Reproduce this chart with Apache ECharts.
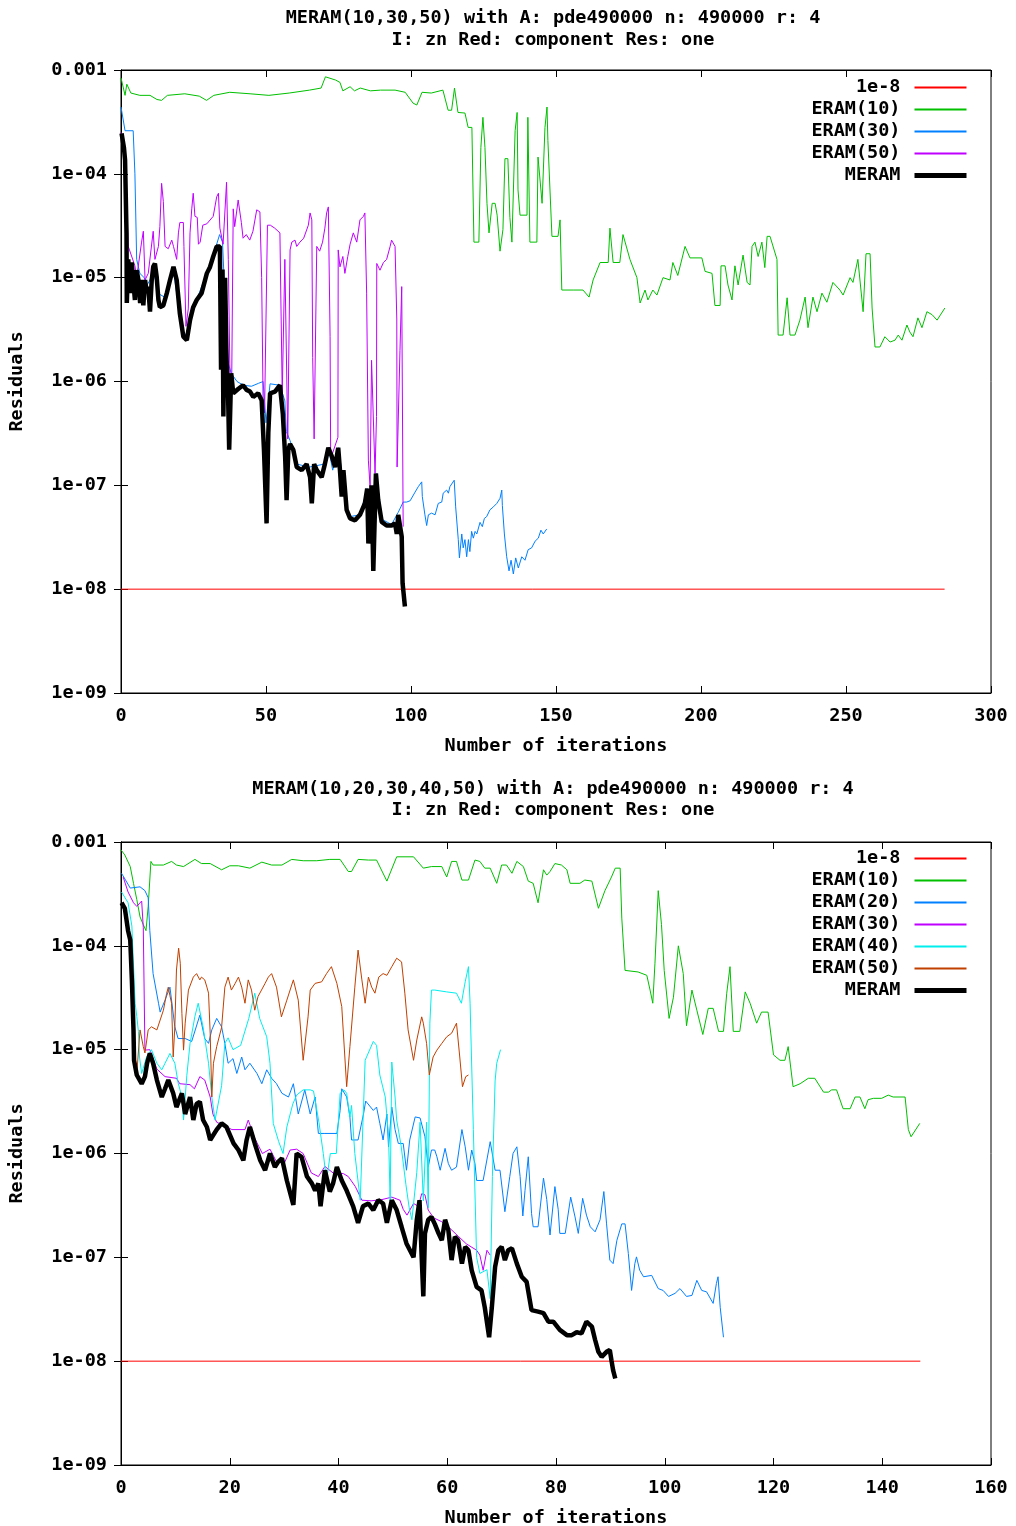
<!DOCTYPE html>
<html>
<head>
<meta charset="utf-8">
<title>MERAM residuals</title>
<script src="https://cdn.jsdelivr.net/npm/echarts@6/dist/echarts.min.js"></script>
<style>
  html, body { margin: 0; padding: 0; background: #fff; }
  #chart { width: 1016px; height: 1526px; }
</style>
</head>
<body>
<div id="chart"></div>
<script>
// residuals, as [iteration, residual]

// --- top plot: MERAM(10,30,50)
const topTarget = [[0, 1e-8], [284, 1e-8]];
const topEram10 = [[0,8.4e-4],[1.4,5.7e-4],[2,7.3e-4],[3.4,6.0e-4],[6.5,5.7e-4],[10,5.7e-4],[12.4,5.2e-4],[14,5.1e-4],[16,5.7e-4],[22,5.9e-4],[27,5.6e-4],[29.5,5.1e-4],[32,5.7e-4],[37.5,6.1e-4],[44.5,5.9e-4],[51,5.7e-4],[58,6.0e-4],[65,6.4e-4],[69,6.7e-4],[70.5,8.6e-4],[74,8.0e-4],[75.5,7.6e-4],[76.5,6.3e-4],[79,6.9e-4],[80.5,6.3e-4],[82.5,6.7e-4],[86,6.3e-4],[89.5,6.4e-4],[94.5,6.4e-4],[98,6.1e-4],[100.7,4.8e-4],[102,4.6e-4],[103.8,6.1e-4],[107,6.0e-4],[111,6.4e-4],[112.8,4.1e-4],[114,4.1e-4],[115,6.7e-4],[116.2,3.9e-4],[118.6,3.85e-4],[119.7,2.8e-4],[121,2.8e-4],[121.7,2.2e-5],[123.4,2.2e-5],[124.1,1.8e-4],[124.8,3.5e-4],[125.5,1.8e-4],[126.2,5.2e-5],[126.9,2.7e-5],[128,5.2e-5],[129,5.2e-5],[129.7,4.0e-5],[130.7,1.8e-5],[131.7,2.9e-5],[132.4,1.4e-4],[133.4,1.4e-4],[134.1,3.8e-5],[134.8,2.2e-5],[135.9,2.6e-4],[136.6,3.9e-4],[136.9,7.0e-5],[137.6,4.0e-5],[140,4.0e-5],[140.3,3.5e-4],[141,2.2e-5],[143.4,2.2e-5],[143.8,1.45e-4],[145.2,5.2e-5],[146.2,2.8e-4],[146.9,4.4e-4],[147.2,2.1e-4],[148.6,2.5e-5],[150.7,2.5e-5],[151.4,3.6e-5],[152,7.6e-6],[155.9,7.6e-6],[159.3,7.6e-6],[161.4,6.5e-6],[162.8,9.5e-6],[165.2,1.4e-5],[168,1.4e-5],[168.6,3.0e-5],[169.7,1.4e-5],[172,1.4e-5],[173.1,2.6e-5],[175.5,1.5e-5],[177.9,1.0e-5],[179,5.7e-6],[180.7,7.6e-6],[181.7,6.1e-6],[183.4,7.6e-6],[184.8,6.8e-6],[186.9,1.0e-5],[189.3,9.5e-6],[190.3,1.4e-5],[192,1.05e-5],[194.5,2.0e-5],[196.2,1.55e-5],[200.3,1.55e-5],[201.4,1.15e-5],[203.8,1.1e-5],[204.8,5.4e-6],[206.6,5.4e-6],[206.9,1.3e-5],[208.3,1.3e-5],[209.3,8.5e-6],[210.7,6.1e-6],[211.7,1.3e-5],[212.8,8.5e-6],[214.5,1.65e-5],[215.9,9.0e-6],[216.9,8.5e-6],[217.6,2.0e-5],[218.6,2.2e-5],[219.7,1.6e-5],[221,2.2e-5],[222,1.25e-5],[222.8,2.5e-5],[223.8,2.5e-5],[226.2,1.5e-5],[226.6,2.8e-6],[228.3,2.8e-6],[229.7,6.4e-6],[230.7,2.8e-6],[232.4,2.8e-6],[234.1,3.9e-6],[235.9,6.5e-6],[236.9,3.3e-6],[238.6,6.5e-6],[240,4.7e-6],[241.7,7.1e-6],[243.4,5.8e-6],[245.5,9.0e-6],[247.9,7.6e-6],[249,6.8e-6],[251.4,1.0e-5],[252.4,9.0e-6],[254.1,1.5e-5],[255.5,6.1e-6],[255.9,4.7e-6],[256.9,1.7e-5],[258.3,1.7e-5],[259,5.1e-6],[260,2.15e-6],[261.7,2.15e-6],[263.4,2.7e-6],[265.2,2.4e-6],[266.9,2.5e-6],[268,2.8e-6],[269.3,2.5e-6],[271,3.5e-6],[272,3.0e-6],[273.1,2.7e-6],[274.8,4.1e-6],[276.2,3.3e-6],[277.9,4.7e-6],[279.7,4.4e-6],[281.4,3.9e-6],[284.1,5.1e-6]];
const topEram30 = [[0,4.4e-4],[1.4,2.6e-4],[4.2,2.6e-4],[4.8,1.0e-4],[5.4,1.5e-5],[6.5,1.1e-5],[8,1.0e-5],[9,8.5e-6],[10,9.5e-6],[11,1.2e-5],[13,7e-6],[15,6.5e-6],[17,9.5e-6],[18,1.2e-5],[20,5e-6],[21.5,3e-6],[22.5,2.8e-6],[24,4e-6],[26,6e-6],[29.5,1.1e-5],[32,1.7e-5],[34,2.6e-5],[35,2.2e-5],[36,5e-6],[37,1.5e-6],[38,1.2e-6],[40,1e-6],[42.2,9.2e-7],[45,9e-7],[47.4,9.6e-7],[49,1.0e-6],[50,4e-7],[51.4,9.5e-7],[54.8,9.2e-7],[56.5,6.5e-7],[57,3.3e-7],[58.3,2.7e-7],[60.6,1.6e-7],[65,1.5e-7],[70,1.6e-7],[71.5,2.3e-7],[73,1.4e-7],[75,2.3e-7],[77.8,6e-8],[79,5e-8],[82.4,5.2e-8],[84.9,9.3e-8],[86,6e-8],[88,1.3e-7],[90,4.7e-8],[93.3,4.2e-8],[95.6,5.5e-8],[97.3,6.9e-8],[98.5,6.9e-8],[99.7,7.1e-8],[100.2,7.4e-8],[101.4,8.6e-8],[102.5,9.7e-8],[103.7,1.08e-7],[103.9,7.8e-8],[104.8,5.2e-8],[105.4,4.1e-8],[106,5.2e-8],[107.1,5.4e-8],[108.3,5.2e-8],[109.4,6.7e-8],[110.6,6.9e-8],[111.1,8.4e-8],[112.3,9.0e-8],[112.9,8.4e-8],[113.4,9.7e-8],[114.9,1.12e-7],[115.4,6.2e-8],[116.3,3.0e-8],[116.7,2.0e-8],[117.5,3.4e-8],[118,2.5e-8],[118.6,3.0e-8],[119.2,2.05e-8],[119.8,3.0e-8],[120.3,2.3e-8],[120.9,3.6e-8],[121.5,3.1e-8],[122.1,3.6e-8],[122.7,3.4e-8],[123.8,4.4e-8],[124.6,4.0e-8],[125.3,4.8e-8],[126.1,5.0e-8],[127.2,5.8e-8],[128.4,6.2e-8],[129.6,6.7e-8],[130.7,7.5e-8],[131.3,9.0e-8],[131.5,6.4e-8],[132.2,3.4e-8],[133,2.05e-8],[133.8,1.5e-8],[134.5,1.9e-8],[135.3,1.4e-8],[136.1,2.0e-8],[137,1.6e-8],[138.2,2.05e-8],[139.3,1.9e-8],[140.4,2.4e-8],[141.6,2.5e-8],[142.8,2.9e-8],[143.9,3.1e-8],[144.8,3.7e-8],[145.6,3.4e-8],[146.8,3.8e-8]];
const topEram50 = [[0,2.5e-4],[1.4,1.3e-4],[2.5,2.0e-5],[4.8,1.3e-5],[5.4,1.0e-5],[7.1,2.2e-5],[7.7,2.8e-5],[8.3,9.5e-6],[9.4,1.1e-5],[11.1,2.8e-5],[11.7,1.5e-5],[12.9,2.0e-5],[13.4,3.1e-5],[14,8.1e-5],[14.6,5.4e-5],[15.2,2.0e-5],[16.3,1.9e-5],[17.5,2.3e-5],[18.1,2.0e-5],[19.2,1.5e-5],[19.8,2.7e-5],[20.3,3.4e-5],[21.5,3.4e-5],[21.7,2.0e-5],[22.4,3.4e-6],[23.2,5.0e-6],[23.8,2.7e-5],[24.4,4.6e-5],[24.9,6.5e-5],[25.5,3.9e-5],[26.3,3.8e-5],[26.7,2.1e-5],[27.3,2.2e-5],[28.2,3.2e-5],[29.6,3.3e-5],[31.8,3.9e-5],[33,6.0e-5],[33.6,6.5e-5],[34.1,3.0e-5],[35.2,2.1e-5],[36.4,8.3e-5],[37,1.5e-5],[37.6,1.0e-6],[38.2,1.2e-6],[38.7,4.6e-5],[39.2,3.1e-5],[40.4,5.6e-5],[41.5,3.4e-5],[42.1,2.4e-5],[43.2,2.6e-5],[44.4,2.3e-5],[45.5,2.8e-5],[46.8,4.5e-5],[47.9,4.3e-5],[48.5,1.0e-5],[49,6.5e-7],[49.5,5.0e-7],[50.5,3.2e-5],[51.5,3.2e-5],[53,3.0e-5],[54.8,2.7e-5],[55.4,2.6e-5],[55.6,7.7e-7],[56.5,1.5e-5],[57.5,2.8e-7],[58.3,1.85e-5],[58.9,2.2e-5],[60,2.3e-5],[60.6,2.0e-5],[61.7,2.2e-5],[63,2.4e-5],[64.6,3.2e-5],[65.2,4.2e-5],[65.8,3.6e-5],[66.1,1.7e-6],[66.6,2.8e-7],[67.5,2.0e-5],[68.5,1.8e-5],[69.5,2.2e-5],[70.3,3.0e-5],[70.9,4.2e-5],[71.5,4.8e-5],[72.1,2.7e-6],[72.3,1.8e-7],[74.8,2.9e-7],[74.9,1.85e-5],[75.5,1.27e-5],[76.5,1.6e-5],[77.2,1.1e-5],[78.2,1.6e-5],[79,2.1e-5],[80.1,2.7e-5],[81.3,2.2e-5],[82.4,3.6e-5],[83.6,3.9e-5],[84.1,4.2e-5],[84.7,7.1e-6],[85.3,1.75e-7],[85.9,9.6e-8],[86.4,1.6e-6],[87.6,1.3e-7],[88.1,4.6e-7],[88.2,1.37e-5],[89.3,1.18e-5],[90.5,1.4e-5],[91.6,1.5e-5],[92.8,2.0e-5],[93.3,2.3e-5],[94.5,2.0e-5],[95.1,4.0e-6],[95.2,1.5e-7],[96.2,2.0e-6],[96.8,8.2e-6],[97.3,4.0e-8]];
const topMeram = [[0.2,2.45e-4],[1,1.8e-4],[1.4,1.36e-4],[1.9,2.7e-5],[2,5.7e-6],[2.5,1.5e-5],[3.1,7.1e-6],[3.7,1.4e-5],[4.2,9.5e-6],[4.8,6.1e-6],[5.4,1.18e-5],[6,9.5e-6],[6.6,5.7e-6],[7.1,9.5e-6],[7.7,5.4e-6],[8.3,9.5e-6],[8.9,7.1e-6],[9.4,8.2e-6],[10,4.7e-6],[10.6,9.5e-6],[11.1,1.27e-5],[11.7,1.37e-5],[12.3,1.02e-5],[12.9,6.1e-6],[13.4,5.2e-6],[14.6,5.4e-6],[15.8,7.1e-6],[16.9,9.5e-6],[18.1,1.27e-5],[19.2,9.5e-6],[20.3,4.5e-6],[21.5,2.7e-6],[22.7,2.5e-6],[23.8,3.9e-6],[24.9,5.2e-6],[26.1,6.1e-6],[27.8,7.1e-6],[29.6,1.1e-5],[30.7,1.27e-5],[31.8,1.6e-5],[33,2.0e-5],[34.1,2.0e-5],[34.5,1.3e-6],[35,1.2e-5],[35.3,4.6e-7],[35.9,1.0e-5],[36.4,1.6e-6],[36.9,8e-7],[37.3,2.2e-7],[38,1.2e-6],[38.7,7.7e-7],[40.5,8.5e-7],[42.1,9.2e-7],[43.3,8.3e-7],[44.5,8.0e-7],[45.6,7.1e-7],[47.3,7.7e-7],[48.5,6.6e-7],[49.3,2.2e-7],[50.2,4.3e-8],[50.8,3.2e-7],[51.4,7.7e-7],[53.1,8.0e-7],[54.8,9.2e-7],[55.8,4.9e-7],[56.6,1.9e-7],[57.1,7.2e-8],[57.7,2.2e-7],[58.3,2.5e-7],[59.4,2.2e-7],[60.6,1.5e-7],[62.3,1.4e-7],[64,1.6e-7],[65.2,1.2e-7],[65.8,6.7e-8],[66.6,1.6e-7],[67.5,1.4e-7],[69.2,1.2e-7],[70.3,1.6e-7],[71.5,2.3e-7],[72.7,1.9e-7],[73.8,1.5e-7],[74.9,2.3e-7],[75.5,1.4e-7],[76.1,7.8e-8],[76.7,1.4e-7],[77.8,5.8e-8],[79,4.8e-8],[80.7,4.6e-8],[82.4,5.2e-8],[84.1,6.7e-8],[84.9,9.3e-8],[85.3,2.75e-8],[86.4,1.0e-7],[87,1.5e-8],[87.9,1.3e-7],[88.7,7.2e-8],[89.9,4.45e-8],[91.6,4.1e-8],[93.3,4.1e-8],[94.5,4.3e-8],[95.1,3.4e-8],[95.6,5.2e-8],[96.2,5.4e-8],[96.8,3.2e-8],[97.1,1.14e-8],[97.9,6.8e-9]];

// --- bottom plot: MERAM(10,20,30,40,50)
const botTarget = [[0, 1e-8], [147, 1e-8]];
const botEram10 = [[0,8.4e-4],[0.7,7.5e-4],[1.7,5.8e-4],[2.3,4.0e-4],[2.9,2.8e-4],[3.5,1.9e-4],[4.1,1.6e-4],[4.6,1.4e-4],[5,2.4e-4],[5.5,6.5e-4],[5.9,6.0e-4],[7.8,6.0e-4],[9.3,6.5e-4],[10.2,6.0e-4],[11.5,5.8e-4],[13.6,6.8e-4],[14.8,6.2e-4],[16.4,6.2e-4],[18.5,5.4e-4],[20,5.9e-4],[21.6,5.9e-4],[23.7,5.6e-4],[25.9,6.4e-4],[27.7,6.0e-4],[29.6,6.0e-4],[31.4,6.8e-4],[33.5,6.6e-4],[36,6.6e-4],[38.4,6.8e-4],[40.3,6.8e-4],[41.8,5.2e-4],[42.4,5.2e-4],[43.6,6.8e-4],[45.5,6.7e-4],[47,6.7e-4],[48.9,4.2e-4],[50.7,7.2e-4],[53.8,7.2e-4],[55.6,5.6e-4],[57.1,5.8e-4],[59,5.8e-4],[59.9,4.6e-4],[60.8,6.5e-4],[61.7,6.5e-4],[62.7,4.3e-4],[63.9,4.3e-4],[65.1,6.7e-4],[66,6.5e-4],[66.9,5.6e-4],[67.9,5.6e-4],[69.1,4.0e-4],[70,6.0e-4],[70.9,6.0e-4],[71.9,5.0e-4],[72.8,6.5e-4],[74,5.8e-4],[74.9,4.2e-4],[75.8,4.0e-4],[76.7,2.6e-4],[77.7,5.4e-4],[78.3,4.8e-4],[78.9,5.2e-4],[79.8,6.2e-4],[81,6.0e-4],[82,5.4e-4],[82.6,4.0e-4],[84.4,4.0e-4],[85.3,4.3e-4],[86.6,4.2e-4],[87.8,2.3e-4],[89,3.4e-4],[90.2,4.6e-4],[90.9,5.6e-4],[91.8,5.6e-4],[92.1,1.85e-4],[92.7,5.8e-5],[95.1,5.6e-5],[96.7,5.2e-5],[97.3,3.75e-5],[97.8,2.8e-5],[98.2,6.8e-5],[98.8,3.4e-4],[99.4,1.6e-4],[99.9,5.8e-5],[100.8,2.0e-5],[101.6,3.2e-5],[102.5,1.0e-4],[103.4,5.4e-5],[104,1.7e-5],[105,3.75e-5],[105.9,2.4e-5],[107,1.4e-5],[108,2.5e-5],[108.9,2.5e-5],[109.9,1.5e-5],[110.8,1.5e-5],[111.4,3.5e-5],[112,6.3e-5],[112.6,1.5e-5],[113.8,1.5e-5],[114.8,3.6e-5],[115.7,2.8e-5],[116.9,1.8e-5],[117.8,2.3e-5],[119,2.3e-5],[120,8.9e-6],[121.2,7.9e-6],[122.1,7.9e-6],[122.7,1.07e-5],[123.6,4.4e-6],[124.9,4.7e-6],[126.4,5.3e-6],[127.6,5.3e-6],[129.2,3.9e-6],[130.1,3.9e-6],[130.7,4.1e-6],[131.6,4.1e-6],[132.8,2.7e-6],[134.1,2.7e-6],[135,3.5e-6],[135.9,3.5e-6],[136.8,2.7e-6],[137.4,3.3e-6],[138.4,3.4e-6],[139.9,3.4e-6],[141.1,3.65e-6],[142,3.5e-6],[144.2,3.5e-6],[144.8,1.7e-6],[145.3,1.45e-6],[146.9,1.95e-6]];
const botEram20 = [[0.1,5.0e-4],[1.7,3.6e-4],[3.5,3.7e-4],[4.4,3.4e-4],[5,2.9e-4],[5.3,1.4e-4],[5.9,5.4e-5],[6.9,2.8e-5],[7.2,2.3e-5],[8.1,3.0e-5],[9,4.0e-5],[9.9,1.66e-5],[10.5,1.28e-5],[11.8,1.28e-5],[13,1.2e-5],[14.5,2.15e-5],[15.4,1.28e-5],[16.1,1.15e-5],[16.7,1.55e-5],[17.6,2.0e-5],[18.5,1.66e-5],[19.1,1.15e-5],[19.7,7.4e-6],[20.6,8.2e-6],[21.3,5.9e-6],[22.2,8.5e-6],[22.8,6.4e-6],[23.7,7.4e-6],[25,5.9e-6],[25.9,4.7e-6],[26.8,6.4e-6],[27.7,5.3e-6],[28.6,4.7e-6],[29.6,3.8e-6],[30.8,3.5e-6],[31.7,4.7e-6],[32.6,2.4e-6],[33.8,4.1e-6],[34.8,2.4e-6],[35.7,3.5e-6],[36.3,1.56e-6],[37.5,1.56e-6],[39.7,1.56e-6],[40.3,2.6e-6],[40.6,4.2e-6],[41.5,3.5e-6],[42.1,2.25e-6],[42.4,1.35e-6],[43.6,1.35e-6],[44.6,2.4e-6],[45,3.2e-6],[46.4,2.6e-6],[47,2.8e-6],[47.6,1.95e-6],[48.2,1.35e-6],[48.9,2.4e-6],[49.2,1.16e-6],[49.8,2.8e-6],[50.4,1.7e-6],[51,1.25e-6],[51.9,1.25e-6],[52.5,6.9e-7],[53.1,1.35e-6],[54.1,2.25e-6],[55,2.2e-6],[55.9,1.45e-6],[56.5,7.4e-7],[57.1,1.08e-6],[57.7,1.08e-6],[58.1,9.3e-7],[58.7,6.9e-7],[59.6,1.12e-6],[60.2,8.0e-7],[60.8,6.9e-7],[61.7,7.4e-7],[62.7,1.7e-6],[63.3,1.16e-6],[63.9,6.9e-7],[64.5,1.08e-6],[65.1,8.0e-7],[65.4,5.5e-7],[66.6,5.5e-7],[67.9,1.3e-6],[68.8,6.9e-7],[69.7,6.9e-7],[70.6,2.75e-7],[71.5,6.0e-7],[72.1,1.0e-6],[72.8,1.16e-6],[73.4,6.0e-7],[73.9,2.5e-7],[74.3,4.4e-7],[74.9,9.3e-7],[75.5,2.65e-7],[75.8,1.97e-7],[76.7,1.97e-7],[77.7,5.8e-7],[78.3,3.6e-7],[78.9,1.64e-7],[79.8,4.8e-7],[80.4,2.9e-7],[80.7,1.7e-7],[81.7,1.7e-7],[82.7,3.8e-7],[83.5,2.45e-7],[84.1,1.7e-7],[84.9,3.7e-7],[85.6,2.55e-7],[86.3,1.97e-7],[87.2,1.76e-7],[88.1,2.3e-7],[88.8,4.3e-7],[89.3,2.1e-7],[89.9,9.4e-8],[90.5,8.7e-8],[91.2,1.46e-7],[92.1,2.1e-7],[92.7,2.1e-7],[93.3,1.09e-7],[93.9,4.8e-8],[94.5,8.7e-8],[94.8,1.01e-7],[95.4,7.5e-8],[96.1,6.5e-8],[97.6,6.7e-8],[98.8,5.0e-8],[99.7,4.8e-8],[100.7,4.2e-8],[101.9,4.5e-8],[102.8,5.0e-8],[104,4.2e-8],[105,4.3e-8],[105.9,6.0e-8],[106.8,4.8e-8],[107.7,4.65e-8],[108.9,3.6e-8],[109.5,5.6e-8],[109.8,6.5e-8],[110.2,3.3e-8],[110.8,1.7e-8]];
const botEram30 = [[0.4,4.6e-4],[1.3,3.3e-4],[2.3,2.6e-4],[2.9,2.4e-4],[3.8,2.7e-4],[4.1,1.5e-4],[4.4,9.9e-6],[5.3,1.0e-5],[6.6,6.5e-6],[8.1,5.5e-6],[10.2,5.3e-6],[10.8,4.7e-6],[12.7,4.6e-6],[13.5,4.2e-6],[14.5,5.5e-6],[15.4,5.1e-6],[16.4,3.5e-6],[16.9,2.4e-6],[17.6,2.0e-6],[18.5,1.9e-6],[20.4,1.7e-6],[22.8,1.7e-6],[23.4,2.1e-6],[24.6,1.4e-6],[26,1.0e-6],[27.4,1.1e-6],[28.5,8.5e-7],[30,8e-7],[31.1,1.08e-6],[32.3,1.1e-6],[33.5,1.0e-6],[35,6.5e-7],[36.3,6e-7],[37.5,7.5e-7],[39,6.5e-7],[40.9,6.4e-7],[41.8,6.0e-7],[43.1,4.8e-7],[44.3,3.55e-7],[46,3.5e-7],[48,3.6e-7],[49.8,3.8e-7],[51.3,3.55e-7],[51.9,2.9e-7],[52.6,2.55e-7],[53.8,3.3e-7],[54.7,3.1e-7],[55.3,4.1e-7],[55.9,4.0e-7],[56.5,2.85e-7],[57.5,2.4e-7],[59,2.2e-7],[60.5,1.9e-7],[62,1.6e-7],[63.5,1.35e-7],[65.4,1.17e-7],[66,1.05e-7],[66.6,7.5e-8],[67.3,1.17e-7],[67.9,1.05e-7]];
const botEram40 = [[0.1,3.3e-4],[1.3,2.6e-4],[2,1.55e-4],[2.6,2.8e-5],[2.9,2.1e-5],[3.2,1.5e-5],[3.4,8.5e-6],[3.8,5.9e-6],[4.7,8.5e-6],[5.6,1.0e-5],[6.6,7.4e-6],[7.5,6.4e-6],[8.1,7.4e-6],[9,9.2e-6],[9.9,7.4e-6],[10.5,4.8e-6],[11.2,3.5e-6],[11.5,2.1e-6],[12.1,5.6e-6],[12.7,1.15e-5],[13.6,2.1e-5],[14.2,2.8e-5],[15.1,1.65e-5],[16.1,7.4e-6],[16.7,3.5e-6],[17.3,2.1e-6],[17.6,2.1e-6],[18.5,4.5e-6],[19.1,1.15e-5],[19.7,1.3e-5],[20.6,1.0e-5],[22,1.1e-5],[23.5,2.0e-5],[24.6,3.5e-5],[25.5,2.0e-5],[26.8,1.33e-5],[27.4,7.4e-6],[28,1.95e-6],[29,1.3e-6],[29.8,1.0e-6],[30.5,1.8e-6],[31.6,3.0e-6],[32.3,3.65e-6],[33.5,4.1e-6],[34.8,4.1e-6],[35.4,4.0e-6],[36.4,2.0e-6],[37.2,1.0e-6],[37.8,5.5e-7],[38.5,1.0e-6],[39.6,1.0e-6],[40.3,3.8e-6],[41,4.1e-6],[41.5,3.8e-6],[42.1,2.25e-6],[42.4,2.9e-6],[43,1.0e-6],[44,3.55e-7],[44.5,2e-6],[44.9,7.9e-6],[46.4,1.2e-5],[47,1.1e-5],[47.6,5.7e-6],[48.6,3.5e-6],[49.2,1.5e-6],[49.5,3.5e-7],[49.8,7.6e-6],[50.4,3.5e-6],[50.7,2.1e-6],[51.5,1.2e-6],[52.4,5e-7],[53,3e-7],[53.5,2.3e-7],[54.4,6.6e-7],[55,2.0e-6],[55.6,3.5e-7],[56.2,2.0e-6],[56.5,3e-7],[56.8,1.8e-5],[57.1,3.75e-5],[57.7,3.75e-5],[59.9,3.6e-5],[61.7,3.5e-5],[62.6,2.8e-5],[63.3,4.5e-5],[63.9,6.3e-5],[64.2,2.8e-5],[64.8,1.7e-6],[65.4,1.0e-7],[66,7e-8],[67.3,7.6e-8],[67.9,4e-8],[68.3,6e-7],[68.8,5e-6],[69.1,7.4e-6],[69.8,1.0e-5]];
const botEram50 = [[2.4,7.9e-6],[2.9,5.9e-6],[3.5,1.55e-5],[4.1,1.07e-5],[4.4,9.3e-6],[5,1.55e-5],[5.6,1.66e-5],[6.6,1.55e-5],[7.2,1.93e-5],[7.8,2.4e-5],[8.4,3.5e-5],[8.7,4.0e-5],[9,3.3e-5],[9.3,2.8e-5],[9.6,8.5e-6],[9.9,1.66e-5],[10.2,5.85e-5],[10.6,9.5e-5],[10.9,6.8e-5],[11.2,2.24e-5],[11.5,9.9e-6],[11.8,1.8e-5],[12.4,3.75e-5],[13.3,5.0e-5],[13.9,5.4e-5],[14.5,4.7e-5],[14.8,5.0e-5],[15.4,4.7e-5],[15.8,4.0e-5],[16.1,3.5e-5],[16.4,1.44e-5],[16.7,3.5e-6],[17,7.4e-6],[17.6,1.07e-5],[18.5,1.64e-5],[19.1,4.0e-5],[19.7,5.0e-5],[20.3,3.75e-5],[21,4.35e-5],[21.6,5.0e-5],[22.2,4.0e-5],[22.8,2.8e-5],[23.4,4.7e-5],[24,3.75e-5],[24.6,2.4e-5],[25.2,3.25e-5],[26.5,4.35e-5],[27.1,5.0e-5],[27.7,5.4e-5],[28.6,4.0e-5],[29.5,2.07e-5],[30.5,3.0e-5],[31.7,4.7e-5],[32.6,3.0e-5],[33.5,7.9e-6],[34.4,2.07e-5],[34.8,3.75e-5],[35.7,4.35e-5],[36.9,4.5e-5],[37.8,5.4e-5],[38.7,6.3e-5],[39.7,4.35e-5],[40.6,2.6e-5],[41.5,4.4e-6],[42.1,1.07e-5],[43,4.0e-5],[43.6,9.1e-5],[44.3,4.7e-5],[44.9,2.8e-5],[45.5,5.0e-5],[46.1,4.0e-5],[46.7,3.5e-5],[47.4,5.0e-5],[48.2,5.4e-5],[48.9,5.2e-5],[49.8,6.3e-5],[50.7,7.6e-5],[51.6,7.0e-5],[52.2,3.5e-5],[52.8,1.55e-5],[53.8,7.9e-6],[54.4,1.24e-5],[55.3,2.07e-5],[55.6,1.8e-5],[56.2,1.15e-5],[56.7,5.7e-6],[57.4,8.5e-6],[58.1,9.9e-6],[59,1.15e-5],[59.9,1.33e-5],[60.8,1.44e-5],[61.7,1.8e-5],[62.3,8.5e-6],[62.8,4.4e-6],[63.4,5.5e-6],[63.9,5.7e-6]];
const botMeram = [[0.1,2.6e-4],[0.7,2.3e-4],[1.3,1.4e-4],[1.7,1.14e-4],[2,4.7e-5],[2.3,1.55e-5],[2.4,7.9e-6],[2.9,5.7e-6],[3.8,4.7e-6],[4.4,5.5e-6],[4.8,7.4e-6],[5.3,9.2e-6],[5.9,7.4e-6],[6.6,5.1e-6],[7.5,3.5e-6],[8.1,4.2e-6],[8.7,5.1e-6],[9.6,3.8e-6],[10.2,2.8e-6],[11.2,3.8e-6],[11.8,2.4e-6],[12.7,3.5e-6],[13.3,2.1e-6],[13.9,3.0e-6],[14.5,3.15e-6],[15.1,2.1e-6],[15.8,1.8e-6],[16.4,1.35e-6],[17.6,1.7e-6],[18.5,1.95e-6],[19.4,1.8e-6],[20.7,1.25e-6],[21.6,1.08e-6],[22.5,8.6e-7],[23.1,1.35e-6],[23.7,1.8e-6],[24.6,1.25e-6],[25.6,8.6e-7],[26.5,6.9e-7],[27.4,1.0e-6],[28.3,7.4e-7],[28.9,8.3e-7],[29.6,9.0e-7],[30.5,5.5e-7],[31.7,3.2e-7],[32.3,1.0e-6],[33.2,9.3e-7],[34.2,6.0e-7],[35.1,5.15e-7],[35.7,4.4e-7],[36.3,5.15e-7],[36.7,3.1e-7],[37.5,6.9e-7],[38.4,4.3e-7],[39,5.15e-7],[39.7,7.4e-7],[40.6,5.5e-7],[41.5,4.4e-7],[42.7,3.1e-7],[43.6,2.15e-7],[44.5,3.1e-7],[45.5,3.3e-7],[46.4,2.85e-7],[47.3,3.55e-7],[48.2,3.3e-7],[48.9,2.15e-7],[49.8,3.55e-7],[50.7,2.85e-7],[51.6,1.97e-7],[52.5,1.36e-7],[53.8,1.0e-7],[54.4,2.3e-7],[54.9,3.55e-7],[55.3,1.0e-7],[55.6,4.2e-8],[55.9,1.7e-7],[56.5,2.3e-7],[57.1,2.45e-7],[57.7,2.1e-7],[58.4,1.7e-7],[59,1.46e-7],[59.6,2.3e-7],[60.2,1.83e-7],[60.8,9.4e-8],[61.4,1.58e-7],[62,1.46e-7],[62.7,8.7e-8],[63.3,1.26e-7],[63.9,1.17e-7],[64.5,7.5e-8],[65.4,5.2e-8],[66.3,4.8e-8],[66.9,3.3e-8],[67.7,1.7e-8],[68.2,3.3e-8],[68.8,8.1e-8],[69.4,1.17e-7],[70,1.26e-7],[70.6,9.4e-8],[71.2,1.17e-7],[71.9,1.22e-7],[72.8,8.7e-8],[73.7,6.5e-8],[74.6,5.8e-8],[75.5,3.1e-8],[76.7,3.0e-8],[77.7,2.9e-8],[78.6,2.4e-8],[79.5,2.4e-8],[80.7,2.0e-8],[82,1.78e-8],[82.9,1.78e-8],[83.8,1.9e-8],[84.7,1.85e-8],[85.6,2.4e-8],[86.6,2.15e-8],[87.2,1.6e-8],[87.8,1.23e-8],[88.4,1.1e-8],[89.3,1.23e-8],[89.9,1.28e-8],[90.2,1.02e-8],[90.5,8.2e-9],[90.9,6.8e-9]];

// axis texts
const yTickLabels = ['1e-09', '1e-08', '1e-07', '1e-06', '1e-05', '1e-04', '0.001'];
const topTitle = 'MERAM(10,30,50) with A: pde490000 n: 490000 r: 4';
const botTitle = 'MERAM(10,20,30,40,50) with A: pde490000 n: 490000 r: 4';
const subTitle = 'I: zn Red: component Res: one';

const FONT = 'DejaVu Sans Mono';
const txt = { fontFamily: FONT, fontSize: 18.5, fontWeight: 'bold', color: '#000' };
const black = { color: '#000', width: 1 };

function xAxisFor(grid, max, step, top) {
  return {
    type: 'value', gridIndex: grid, min: 0, max: max, interval: step,
    position: top ? 'top' : 'bottom',
    name: top ? '' : 'Number of iterations',
    nameLocation: 'middle', nameGap: 44, nameTextStyle: txt,
    axisLine: { show: true, lineStyle: black },
    axisTick: { show: true, inside: true, length: 7, lineStyle: black },
    axisLabel: top ? { show: false } : Object.assign({ margin: 14 }, txt),
    splitLine: { show: false }
  };
}

function yAxisFor(grid, right) {
  return {
    type: 'log', logBase: 10, gridIndex: grid, min: 1e-9, max: 1e-3, splitNumber: 6,
    position: right ? 'right' : 'left',
    name: right ? '' : 'Residuals',
    nameLocation: 'middle', nameRotate: 90, nameGap: 94, nameTextStyle: txt,
    axisLine: { show: true, lineStyle: black },
    axisTick: { show: true, inside: true, length: 7, lineStyle: black },
    axisLabel: right ? { show: false } : Object.assign({
      margin: 14,
      formatter: v => yTickLabels[Math.round(Math.log10(v)) + 9] || ''
    }, txt),
    splitLine: { show: false }
  };
}

function line(name, data, color, width, idx) {
  return {
    name: name, type: 'line', data: data,
    xAxisIndex: idx, yAxisIndex: idx,
    symbol: 'none', showSymbol: false, silent: true,
    lineStyle: { color: color, width: width },
    itemStyle: { color: color }
  };
}

function legendFor(names, top) {
  return {
    data: names.map(n => n.endsWith('MERAM') ? { name: n, lineStyle: { width: 5 } } : n),
    orient: 'vertical', align: 'right',
    right: 42, top: top, itemWidth: 52, itemHeight: 14, itemGap: 3,
    itemStyle: { color: 'rgba(0,0,0,0)', borderWidth: 0 },
    formatter: n => n.slice(2),
    textStyle: Object.assign({ padding: [0, 9, 0, 0] }, txt),
    selectedMode: false
  };
}

const topNames = ['t|1e-8', 't|ERAM(10)', 't|ERAM(30)', 't|ERAM(50)', 't|MERAM'];
const botNames = ['b|1e-8', 'b|ERAM(10)', 'b|ERAM(20)', 'b|ERAM(30)', 'b|ERAM(40)', 'b|ERAM(50)', 'b|MERAM'];

function heading(text, y) {
  return { type: 'text', x: 553, y: y, style: Object.assign({ text: text, align: 'center', verticalAlign: 'middle' }, txt, { fill: '#000' }) };
}

const chart = echarts.init(document.getElementById('chart'));
chart.setOption({
  animation: false,
  backgroundColor: '#fff',
  graphic: [heading(topTitle, 18), heading(subTitle, 40), heading(botTitle, 789), heading(subTitle, 810)],
  grid: [
    { left: 121, top: 70, width: 870, height: 623, show: true, borderColor: '#000', borderWidth: 1, containLabel: false, outerBoundsMode: 'none' },
    { left: 121, top: 842, width: 870, height: 623, show: true, borderColor: '#000', borderWidth: 1, containLabel: false, outerBoundsMode: 'none' }
  ],
  xAxis: [xAxisFor(0, 300, 50, false), xAxisFor(1, 160, 20, false), xAxisFor(0, 300, 50, true), xAxisFor(1, 160, 20, true)],
  yAxis: [yAxisFor(0, false), yAxisFor(1, false), yAxisFor(0, true), yAxisFor(1, true)],
  legend: [legendFor(topNames, 73), legendFor(botNames, 844)],
  series: [
    line('t|1e-8', topTarget, '#ff0000', 1, 0),
    line('t|ERAM(10)', topEram10, '#00c000', 1, 0),
    line('t|ERAM(30)', topEram30, '#0080ff', 1, 0),
    line('t|ERAM(50)', topEram50, '#c000ff', 1, 0),
    line('t|MERAM', topMeram, '#000000', 4.5, 0),
    line('b|1e-8', botTarget, '#ff0000', 1, 1),
    line('b|ERAM(10)', botEram10, '#00c000', 1, 1),
    line('b|ERAM(20)', botEram20, '#0080ff', 1, 1),
    line('b|ERAM(30)', botEram30, '#c000ff', 1, 1),
    line('b|ERAM(40)', botEram40, '#00eeee', 1, 1),
    line('b|ERAM(50)', botEram50, '#c04000', 1, 1),
    line('b|MERAM', botMeram, '#000000', 4.5, 1)
  ]
});
</script>
</body>
</html>
